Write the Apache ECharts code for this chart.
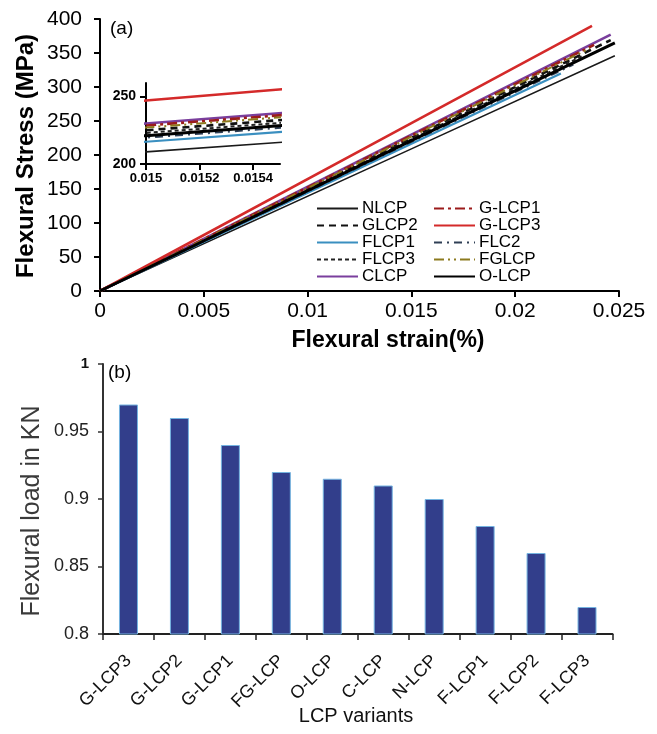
<!DOCTYPE html>
<html>
<head>
<meta charset="utf-8">
<script src="https://cdn.jsdelivr.net/npm/echarts@6/dist/echarts.min.js"></script>
<style>
  html, body { margin: 0; padding: 0; background: #fff; }
  #chart { width: 657px; height: 734px; }
</style>
</head>
<body>
<div id="chart"></div>
<script>
// ---- Panel (a): stress-strain lines ----
const lineNames = ['NLCP', 'GLCP2', 'FLCP1', 'FLCP3', 'CLCP', 'G-LCP1', 'G-LCP3', 'FLC2', 'FGLCP', 'O-LCP'];
const strainMid = 0.015;
const stressAtMid = [209, 225, 216.5, 223, 230, 228.5, 247, 219.5, 227, 221];
const strainEnd = [0.0248, 0.0246, 0.0222, 0.0232, 0.0246, 0.0238, 0.0237, 0.0228, 0.0236, 0.0248];
const stressEnd = [346, 369, 320, 345, 377, 362, 390, 333, 357, 365];
const insetStrainTicks = [0.015, 0.0152, 0.0154];
const insetStressTicks = [200, 250];

// ---- Panel (b): flexural load bars ----
const barCategories = ['G-LCP3', 'G-LCP2', 'G-LCP1', 'FG-LCP', 'O-LCP', 'C-LCP', 'N-LCP', 'F-LCP1', 'F-LCP2', 'F-LCP3'];
const barValues = [0.97, 0.96, 0.94, 0.92, 0.915, 0.91, 0.90, 0.88, 0.86, 0.82];

const FONT = '"Liberation Sans", Arial, sans-serif';

const lineStyles = {
  'NLCP':   { color: '#1a1a1a', width: 1.6, type: 'solid' },
  'GLCP2':  { color: '#111111', width: 2.6, type: [7, 5] },
  'FLCP1':  { color: '#3a8fc0', width: 2.2, type: 'solid' },
  'FLCP3':  { color: '#222222', width: 2, type: [4, 3] },
  'CLCP':   { color: '#7a3f9d', width: 2.6, type: 'solid' },
  'G-LCP1': { color: '#9b1b1b', width: 2.6, type: [10, 4, 3, 4] },
  'G-LCP3': { color: '#d42a2a', width: 2.6, type: 'solid' },
  'FLC2':   { color: '#2f3f55', width: 2, type: [8, 5, 2, 5] },
  'FGLCP':  { color: '#8c7a1e', width: 2, type: [10, 4, 2, 4, 2, 4] },
  'O-LCP':  { color: '#000000', width: 3, type: 'solid' }
};

function pts(i) {
  return [[0, 0], [strainMid, stressAtMid[i]], [strainEnd[i], stressEnd[i]]];
}

const series = [];
lineNames.forEach((n, i) => {
  const ls = lineStyles[n];
  [0, 1].forEach(g => {
    series.push({
      name: n,
      type: 'line',
      xAxisIndex: g, yAxisIndex: g,
      data: pts(i),
      symbol: 'none',
      clip: true,
      lineStyle: { color: ls.color, width: ls.width, type: ls.type },
      itemStyle: { color: ls.color },
      z: n === 'O-LCP' ? 4 : 3,
      animation: false
    });
  });
});

series.push({
  type: 'bar',
  xAxisIndex: 2, yAxisIndex: 2,
  data: barValues,
  barWidth: 19,
  itemStyle: { color: '#323e8b', borderColor: '#74b3e0', borderWidth: 1 },
  animation: false
});

const legendCommon = {
  orient: 'vertical', top: 200, padding: 0,
  itemWidth: 41, itemHeight: 12, itemGap: 0,
  itemStyle: { opacity: 0 },
  textStyle: { fontSize: 17, lineHeight: 17, color: '#000', fontFamily: FONT, padding: [0, 0, 0, -1] }
};

const option = {
  backgroundColor: '#ffffff',
  animation: false,
  textStyle: { fontFamily: FONT },
  grid: [
    { left: 100, top: 19, width: 519, height: 272 },
    { left: 146, top: 83, width: 134, height: 81 },
    { left: 103, top: 364, width: 509.5, height: 270 }
  ],
  legend: [
    Object.assign({ data: lineNames.slice(0, 5), left: 316 }, legendCommon),
    Object.assign({ data: lineNames.slice(5), left: 433 }, legendCommon)
  ],
  xAxis: [
    {
      type: 'value', gridIndex: 0, min: 0, max: 0.025, interval: 0.005,
      axisLine: { lineStyle: { color: '#000', width: 2 } },
      axisTick: { show: true, length: 6, inside: false, lineStyle: { color: '#000', width: 2 } },
      axisLabel: { fontSize: 21, color: '#000', margin: 10, fontFamily: FONT },
      splitLine: { show: false }
    },
    {
      type: 'value', gridIndex: 1, min: 0.015, max: 0.0155,
      axisLine: { lineStyle: { color: '#000', width: 2 } },
      axisTick: { show: true, length: 6, customValues: insetStrainTicks, lineStyle: { color: '#000', width: 2 } },
      axisLabel: { fontSize: 13, fontWeight: 'bold', color: '#000', margin: 8, customValues: insetStrainTicks, fontFamily: FONT },
      splitLine: { show: false }
    },
    {
      type: 'category', gridIndex: 2, data: barCategories,
      axisLine: { lineStyle: { color: '#222', width: 2 } },
      axisTick: { show: true, length: 6, lineStyle: { color: '#222', width: 1.5 } },
      axisLabel: { rotate: 45, fontSize: 18, color: '#111', margin: 24, interval: 0, fontFamily: FONT },
      splitLine: { show: false }
    }
  ],
  yAxis: [
    {
      type: 'value', gridIndex: 0, min: 0, max: 400, interval: 50,
      axisLine: { show: true, lineStyle: { color: '#000', width: 2 } },
      axisTick: { show: true, length: 6, lineStyle: { color: '#000', width: 2 } },
      axisLabel: { fontSize: 21, color: '#000', margin: 18, fontFamily: FONT },
      splitLine: { show: false }
    },
    {
      type: 'value', gridIndex: 1, min: 200, max: 260,
      axisLine: { show: true, lineStyle: { color: '#000', width: 2 } },
      axisTick: { show: true, length: 6, customValues: insetStressTicks, lineStyle: { color: '#000', width: 2 } },
      axisLabel: { fontSize: 14, fontWeight: 'bold', color: '#000', margin: 10, customValues: insetStressTicks, fontFamily: FONT },
      splitLine: { show: false }
    },
    {
      type: 'value', gridIndex: 2, min: 0.8, max: 1, interval: 0.05,
      axisLine: { show: true, lineStyle: { color: '#333', width: 2 } },
      axisTick: { show: true, length: 5, lineStyle: { color: '#333', width: 1.5 } },
      axisLabel: {
        fontSize: 18, color: '#222', margin: 14, fontFamily: FONT,
        formatter: v => (v === 1 ? '{b|1}' : String(+v.toFixed(2))),
        rich: { b: { fontSize: 15, fontWeight: 'bold', color: '#111', fontFamily: FONT } }
      },
      splitLine: { show: false }
    }
  ],
  graphic: [
    { type: 'text', left: 110, top: 19, style: { text: '(a)', fontSize: 19, fill: '#000', fontFamily: FONT } },
    { type: 'text', left: 108, top: 363, style: { text: '(b)', fontSize: 19, fill: '#000', fontFamily: FONT } },
    {
      type: 'text', x: 26, y: 156, rotation: Math.PI / 2,
      style: { text: 'Flexural Stress (MPa)', fontSize: 24, fontWeight: 'bold', fill: '#000', fontFamily: FONT, align: 'center', verticalAlign: 'middle' }
    },
    {
      type: 'text', x: 388, y: 341,
      style: { text: 'Flexural strain(%)', fontSize: 23, fontWeight: 'bold', fill: '#000', fontFamily: FONT, align: 'center', verticalAlign: 'middle' }
    },
    {
      type: 'text', x: 32, y: 511, rotation: Math.PI / 2,
      style: { text: 'Flexural load in KN', fontSize: 25, fill: '#3a3a3a', fontFamily: FONT, align: 'center', verticalAlign: 'middle' }
    },
    {
      type: 'text', x: 356, y: 716,
      style: { text: 'LCP variants', fontSize: 20, fill: '#111', fontFamily: FONT, align: 'center', verticalAlign: 'middle' }
    }
  ],
  series: series
};

const chart = echarts.init(document.getElementById('chart'), null, { renderer: 'canvas' });
chart.setOption(option);
</script>
</body>
</html>
